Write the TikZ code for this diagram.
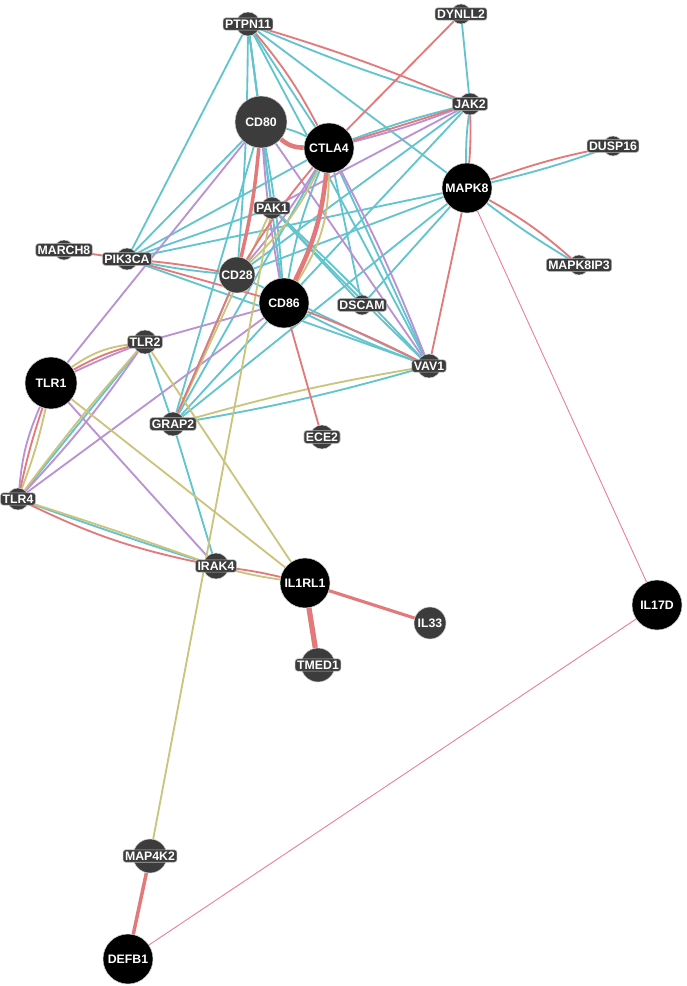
\documentclass[tikz,border=0pt]{standalone}
\usepackage{fontspec}
\setmainfont{Liberation Sans}
\usetikzlibrary{backgrounds}

\definecolor{genegray}{RGB}{60,60,60}
\definecolor{physred}{RGB}{226,122,124}
\definecolor{coexcyan}{RGB}{98,196,206}
\definecolor{pathpurple}{RGB}{186,146,212}
\definecolor{domolive}{RGB}{202,196,124}
\definecolor{predpink}{RGB}{236,122,160}

\tikzset{
  gene/.style={circle, draw=white!80!black, line width=0.3pt, inner sep=0pt},
  tag/.style={rounded corners=1.5pt, inner sep=1.1pt, text=white,
    font=\bfseries\fontsize{7}{8}\selectfont},
  boxtag/.style={tag, fill=genegray, draw=white!70!black, line width=0.3pt},
  link/.style={line width=1.05pt},
}

\begin{document}
\begin{tikzpicture}[x=0.02cm, y=-0.02cm]
\useasboundingbox (0,0) rectangle (686,986);

% small genes, label sits in a box
\foreach \n/\x/\y/\d/\t in {ptpn11/248/24/4.8/PTPN11, dynll2/461/14/4/DYNLL2,
    jak2/470/104/4.4/JAK2, dusp16/613/146/4/DUSP16, mapk8ip3/579/265/4/MAPK8IP3,
    march8/64/250/4/MARCH8, pik3ca/127/259/4.4/PIK3CA, pak1/272/208/4.4/PAK1,
    dscam/362/305/4/DSCAM, vav1/429/366/4.8/VAV1, tlr2/145/342/4.8/TLR2,
    grap2/173/424/4.8/GRAP2, ece2/322/437/4.8/ECE2, tlr4/18/499/4.4/TLR4,
    irak4/216/566/5.2/IRAK4, tmed1/318/665/6.8/TMED1, map4k2/150/856/6.8/MAP4K2} {
  \node[gene, fill=genegray, minimum size=\d mm] (\n) at (\x,\y) {};
  \node[boxtag] (\n-t) at (\n) {\t};
}

% large genes
\foreach \n/\x/\y/\d/\c/\t in {cd80/261/122/10.4/genegray/CD80, ctla4/329/148/10/black/CTLA4,
    mapk8/467/188/10/black/MAPK8, cd28/237/275/7.2/genegray/CD28, cd86/284/303/10/black/CD86,
    tlr1/51/383/10.4/black/TLR1, il1rl1/305/583/10/black/IL1RL1, il33/430/623/6.4/genegray/IL33,
    il17d/657/605/10/black/IL17D, defb1/128/959/10/black/DEFB1} {
  \node[gene, fill=\c, minimum size=\d mm] (\n) at (\x,\y) {};
  \node[tag] (\n-t) at (\n) {\t};
}

\begin{scope}[on background layer]
% co-expression
\foreach \a/\b/\bd in {ptpn11/jak2/-3, ptpn11/ctla4/0, ptpn11/cd80/0, ptpn11/cd28/2, ptpn11/cd86/0,
    ptpn11/pik3ca/0, ptpn11/mapk8/0, ptpn11/pak1/0, ptpn11/vav1/0, dynll2/jak2/0, jak2/mapk8/-4,
    jak2/ctla4/-3, jak2/cd28/0, jak2/cd86/0, mapk8/dusp16/-3, mapk8/mapk8ip3/-3, mapk8/dscam/0,
    mapk8/pik3ca/0, mapk8/cd28/0, mapk8/grap2/0, cd80/ctla4/6, cd80/pik3ca/0, cd80/grap2/0,
    cd80/cd86/3, ctla4/pik3ca/0, ctla4/cd86/-6, ctla4/dscam/0, ctla4/vav1/0, ctla4/grap2/0,
    pak1/vav1/2, pak1/vav1/-1, pak1/pik3ca/0, pak1/dscam/0, pik3ca/vav1/0, pik3ca/cd28/-3,
    cd28/vav1/0, cd28/grap2/0, cd86/vav1/-3, cd86/grap2/0, grap2/vav1/-3, grap2/tlr2/0,
    grap2/irak4/0, tlr2/tlr4/0, tlr4/irak4/-1}
  \draw[link, coexcyan] (\a) to[bend left=\bd] (\b);
% pathway
\foreach \a/\b/\bd in {jak2/pak1/0, jak2/ctla4/3, cd80/cd86/-3, cd80/tlr1/0, cd80/vav1/0,
    ctla4/vav1/3, ctla4/cd28/4, cd86/tlr2/0, cd86/tlr4/0, tlr1/tlr2/2, tlr1/tlr4/-9,
    tlr2/tlr4/4, tlr1/irak4/0}
  \draw[link, pathpurple] (\a) to[bend left=\bd] (\b);
% shared domains
\foreach \a/\b/\bd in {ctla4/cd86/16, ctla4/cd28/10, pak1/map4k2/0, pak1/grap2/0,
    tlr1/tlr2/14, tlr1/tlr4/4, tlr2/tlr4/-2, tlr2/il1rl1/0, tlr1/il1rl1/0,
    tlr4/irak4/1, irak4/il1rl1/-3, grap2/vav1/3}
  \draw[link, domolive] (\a) to[bend left=\bd] (\b);
% physical interactions
\foreach \a/\b/\bd in {ptpn11/jak2/3, ptpn11/ctla4/6, dynll2/ctla4/0, jak2/ctla4/0,
    jak2/mapk8/3, mapk8/dusp16/4, mapk8/mapk8ip3/6, mapk8/vav1/0, ctla4/cd28/-4,
    march8/pik3ca/0, pik3ca/cd28/3, pik3ca/cd86/0, cd86/vav1/3, cd86/ece2/0, cd28/grap2/0,
    tlr1/tlr2/7, tlr1/tlr4/-3, tlr4/irak4/-7, irak4/il1rl1/3}
  \draw[link, physred] (\a) to[bend left=\bd] (\b);
\draw[physred, line width=2.6pt] (cd80) to[bend right=20] (ctla4);
\draw[physred, line width=2pt] (cd80) to[bend left=4] (cd28);
\draw[physred, line width=2.6pt] (ctla4) to[bend left=10] (cd86);
\draw[physred, line width=1.8pt] (il1rl1) -- (il33);
\draw[physred, line width=3pt] (il1rl1) -- (tmed1);
\draw[physred, line width=2pt] (map4k2) -- (defb1);
% predicted
\draw[predpink, line width=0.5pt] (mapk8) -- (il17d);
\draw[predpink, line width=0.5pt] (defb1) -- (il17d);
\end{scope}
\end{tikzpicture}
\end{document}
